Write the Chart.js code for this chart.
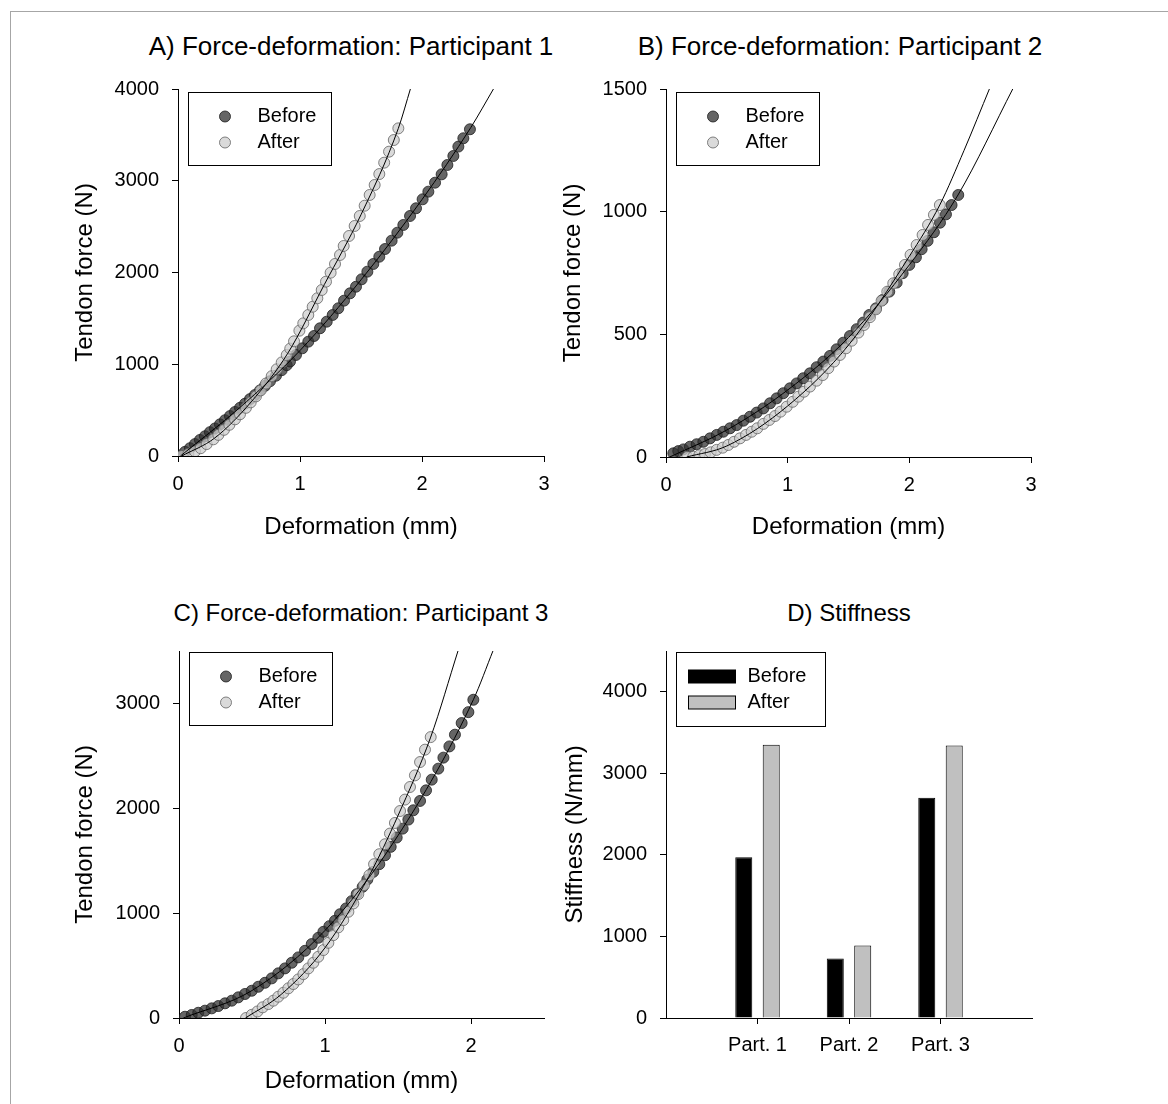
<!DOCTYPE html>
<html lang="en">
<head>
<meta charset="UTF-8">
<title>Force-deformation and stiffness</title>
<script src="https://cdn.jsdelivr.net/npm/chart.js"></script>
<style>
  body { margin: 0; background: #fff; }
  #page { position: relative; width: 1168px; height: 1104px; overflow: hidden;
          font-family: 'Liberation Sans', Arial, sans-serif; }
  #frame { position: absolute; left: 10px; top: 11px; right: -5px; bottom: -5px;
           border-left: 1px solid #a6a6a6; border-top: 1px solid #a6a6a6; }
  .panel-title { position: absolute; width: 600px; text-align: center;
                 font-size: 24px; line-height: 28px; color: #000; }
  .panel-title.big { font-size: 26px; }
  canvas { position: absolute; }
</style>
</head>
<body>
<div id="page">
  <div id="frame"></div>
  <div class="panel-title big" style="left:51px; top:32px">A) Force-deformation: Participant 1</div>
  <div class="panel-title big" style="left:540px; top:32px">B) Force-deformation: Participant 2</div>
  <div class="panel-title" style="left:61px; top:599px">C) Force-deformation: Participant 3</div>
  <div class="panel-title" style="left:549px; top:599px">D) Stiffness</div>
  <canvas id="chartA" width="515" height="490" style="left:40px; top:70px"></canvas>
  <canvas id="chartB" width="505" height="490" style="left:555px; top:70px"></canvas>
  <canvas id="chartC" width="515" height="472" style="left:40px; top:632px"></canvas>
  <canvas id="chartD" width="505" height="472" style="left:555px; top:632px"></canvas>
</div>

<script>
// deformation (mm), tendon force (N)
const p1Before = [[0.016,5],[0.057,45],[0.098,85],[0.139,130],[0.180,175],[0.221,215],[0.262,260],[0.303,300],
  [0.344,345],[0.385,390],[0.426,435],[0.467,480],[0.508,525],[0.549,570],[0.590,620],[0.631,665],[0.672,715],
  [0.713,765],[0.754,815],[0.803,875],[0.850,935],[0.891,990],[0.918,1030],[0.967,1101],[1.019,1174],[1.068,1246],
  [1.115,1308],[1.164,1392],[1.219,1464],[1.268,1537],[1.314,1610],[1.361,1693],[1.410,1773],[1.459,1845],
  [1.505,1926],[1.552,2009],[1.601,2093],[1.650,2172],[1.697,2256],[1.751,2347],[1.798,2434],[1.847,2518],
  [1.902,2616],[1.951,2700],[2.005,2798],[2.052,2881],[2.107,2979],[2.161,3070],[2.208,3172],[2.257,3270],
  [2.298,3372],[2.339,3463],[2.393,3561]];
const p1After = [[0.030,0],[0.085,22],[0.139,50],[0.186,85],[0.235,130],[0.290,182],[0.331,230],[0.377,285],
  [0.421,340],[0.467,400],[0.508,455],[0.557,525],[0.596,585],[0.639,650],[0.678,715],[0.721,790],[0.768,870],
  [0.809,945],[0.850,1020],[0.891,1100],[0.920,1170],[0.951,1250],[0.995,1366],[1.027,1446],[1.068,1537],
  [1.104,1627],[1.142,1719],[1.178,1809],[1.213,1900],[1.251,1998],[1.287,2093],[1.328,2191],[1.358,2289],
  [1.402,2398],[1.448,2507],[1.490,2616],[1.530,2728],[1.571,2845],[1.612,2954],[1.650,3073],[1.690,3197],
  [1.730,3317],[1.769,3444],[1.806,3571]];
const p1FitBefore = [[0.02,0],[0.5,520],[1.0,1150],[1.5,1920],[2.0,2795],[2.4,3580],[2.59,4010]];
const p1FitAfter = [[0.03,0],[0.3,195],[0.6,590],[0.9,1120],[1.2,1870],[1.5,2630],[1.806,3571],[1.907,4010]];

const p2Before = [[0.060,15],[0.101,24],[0.143,31],[0.197,42],[0.252,52],[0.307,62],[0.362,76],[0.417,90],
  [0.471,103],[0.526,117],[0.581,130],[0.636,148],[0.690,164],[0.745,181],[0.800,198],[0.855,219],[0.909,239],
  [0.964,260],[1.019,280],[1.074,300],[1.128,321],[1.183,341],[1.238,366],[1.293,389],[1.348,412],[1.402,439],
  [1.457,466],[1.512,493],[1.567,521],[1.621,548],[1.671,579],[1.726,606],[1.780,640],[1.835,674],[1.896,711],
  [1.945,749],[2.000,783],[2.054,814],[2.101,847],[2.150,881],[2.202,916],[2.252,955],[2.301,989],[2.347,1027],
  [2.402,1068]];
const p2After = [[0.175,0],[0.224,1],[0.274,7],[0.320,12],[0.367,19],[0.416,29],[0.466,38],[0.512,49],
  [0.559,62],[0.608,76],[0.658,90],[0.704,103],[0.750,117],[0.800,135],[0.849,151],[0.896,167],[0.942,185],
  [0.992,205],[1.041,225],[1.088,246],[1.134,266],[1.183,287],[1.238,311],[1.288,334],[1.334,362],[1.381,389],
  [1.430,416],[1.479,443],[1.526,474],[1.581,507],[1.627,538],[1.676,570],[1.726,602],[1.772,637],[1.819,674],
  [1.868,708],[1.917,745],[1.964,783],[2.010,824],[2.060,864],[2.109,905],[2.154,946],[2.202,987],[2.251,1027]];
const p2FitBefore = [[0.03,0],[0.5,110],[1.0,273],[1.5,487],[2.0,783],[2.4,1068],[2.855,1505]];
const p2FitAfter = [[0.17,0],[0.5,45],[1.0,208],[1.5,456],[2.0,818],[2.25,1027],[2.45,1250],[2.662,1505]];

const p3Before = [[0.041,12],[0.087,29],[0.132,50],[0.178,70],[0.224,92],[0.269,114],[0.315,140],[0.361,165],
  [0.406,197],[0.452,229],[0.498,260],[0.543,298],[0.589,336],[0.635,378],[0.680,426],[0.726,473],[0.772,527],
  [0.817,578],[0.863,641],[0.909,705],[0.954,765],[0.989,822],[1.030,876],[1.068,927],[1.103,990],[1.144,1045],
  [1.182,1114],[1.217,1181],[1.258,1251],[1.290,1321],[1.331,1394],[1.372,1467],[1.411,1552],[1.450,1632],
  [1.491,1721],[1.532,1806],[1.571,1892],[1.605,1981],[1.651,2070],[1.692,2171],[1.731,2273],[1.776,2378],
  [1.811,2483],[1.852,2590],[1.890,2702],[1.936,2813],[1.982,2917],[2.016,3035]];
const p3After = [[0.459,0],[0.498,30],[0.537,62],[0.573,102],[0.612,133],[0.646,165],[0.680,203],[0.715,241],
  [0.749,283],[0.783,324],[0.817,368],[0.852,419],[0.886,473],[0.920,527],[0.954,584],[0.989,648],[1.023,717],
  [1.057,790],[1.091,864],[1.125,933],[1.160,1013],[1.194,1092],[1.228,1181],[1.267,1267],[1.304,1362],
  [1.336,1467],[1.372,1562],[1.411,1657],[1.445,1759],[1.479,1860],[1.514,1974],[1.548,2083],[1.582,2203],
  [1.616,2314],[1.651,2441],[1.685,2559],[1.724,2679]];
const p3FitBefore = [[0.03,0],[0.5,262],[1.0,835],[1.5,1740],[2.016,3035],[2.153,3510]];
const p3FitAfter = [[0.455,0],[0.7,225],[1.0,670],[1.3,1350],[1.5,1930],[1.724,2679],[1.913,3510]];

// stiffness (N/mm)
const parts = ['Part. 1', 'Part. 2', 'Part. 3'];
const stiffBefore = [1970, 730, 2700];
const stiffAfter = [3350, 890, 3340];

const deformTicks = [0, 1, 2, 3];
const deformTicksC = [0, 1, 2];
const forceTicksA = [0, 1000, 2000, 3000, 4000];
const forceTicksB = [0, 500, 1000, 1500];
const forceTicksC = [0, 1000, 2000, 3000];
const stiffTicks = [0, 1000, 2000, 3000, 4000];

const FONT = "'Liberation Sans', Arial, sans-serif";
Chart.defaults.font.family = FONT;
Chart.defaults.color = '#000';
Chart.defaults.animation = false;

const beforeFill = 'rgba(50,50,50,0.75)', beforeEdge = 'rgba(30,30,30,0.8)';
const afterFill = 'rgba(205,205,205,0.75)', afterEdge = 'rgba(100,100,100,0.8)';

function pts(pairs) {
  return pairs.map(([x, y]) => ({x, y}));
}

// fixed axis size, and no extra room for overhanging tick labels
function fitTo(o) {
  return s => {
    s.paddingTop = s.paddingBottom = s.paddingLeft = s.paddingRight = 0;
    if (o.width) s.width = o.width;
    if (o.height) s.height = o.height;
  };
}

function axis(o) {
  return {
    type: 'linear', min: o.min, max: o.max,
    afterBuildTicks: s => { s.ticks = o.ticks.map(v => ({value: v})); },
    afterFit: fitTo(o),
    ticks: { font: {size: 20}, padding: o.pad, autoSkip: false, maxRotation: 0, callback: v => String(v) },
    grid: { drawOnChartArea: false, tickLength: 6, color: '#000', tickColor: '#000' },
    border: { color: '#000', width: 1 },
    title: { display: !!o.title, text: o.title, font: {size: 24}, padding: o.titlePad }
  };
}

// legend drawn as a framed box inside the plot area
function boxLegend(cfg) {
  return {
    id: 'boxLegend',
    afterDatasetsDraw(chart) {
      const {ctx, chartArea} = chart;
      const x0 = Math.round(chartArea.left + cfg.dx) + 0.5;
      const y0 = Math.round(chartArea.top + cfg.dy) + 0.5;
      ctx.save();
      ctx.fillStyle = '#fff';
      ctx.fillRect(x0, y0, cfg.w, cfg.h);
      ctx.strokeStyle = '#000';
      ctx.lineWidth = 1;
      ctx.strokeRect(x0, y0, cfg.w, cfg.h);
      ctx.font = '20px ' + FONT;
      ctx.textBaseline = 'middle';
      cfg.items.forEach((di, row) => {
        const ds = chart.data.datasets[di];
        const cy = y0 + cfg.row0 + row * cfg.rowGap;
        ctx.fillStyle = ds.backgroundColor;
        ctx.strokeStyle = ds.borderColor;
        ctx.lineWidth = 1;
        if (cfg.rect) {
          const r = cfg.rect;
          ctx.fillRect(x0 + r.x, Math.round(cy - r.h / 2), r.w, r.h);
          ctx.strokeRect(x0 + r.x, Math.round(cy - r.h / 2), r.w, r.h);
        } else {
          ctx.beginPath();
          ctx.arc(x0 + cfg.markX, cy, 5.5, 0, Math.PI * 2);
          ctx.fill();
          ctx.stroke();
        }
        ctx.fillStyle = '#000';
        ctx.fillText(ds.label, x0 + cfg.textX, cy);
      });
      ctx.restore();
    }
  };
}

function forceChart(id, before, after, fitBefore, fitAfter, xAxis, yAxis, padding, legendCfg) {
  const marker = { pointRadius: 5.5, pointBorderWidth: 1, pointHoverRadius: 5.5 };
  const fit = { showLine: true, pointRadius: 0, borderColor: '#000', borderWidth: 1,
                cubicInterpolationMode: 'monotone', clip: {left: 3, right: 3, top: 0, bottom: 3} };
  new Chart(document.getElementById(id), {
    type: 'scatter',
    data: {
      datasets: [
        { label: 'Before', data: pts(before), backgroundColor: beforeFill, borderColor: beforeEdge, order: 4, ...marker },
        { label: 'After', data: pts(after), backgroundColor: afterFill, borderColor: afterEdge, order: 3, ...marker },
        { label: 'fit before', data: pts(fitBefore), order: 1, ...fit },
        { label: 'fit after', data: pts(fitAfter), order: 2, ...fit }
      ]
    },
    options: {
      responsive: false, devicePixelRatio: 1, events: [],
      layout: { padding },
      plugins: { legend: {display: false}, tooltip: {enabled: false} },
      scales: { x: xAxis, y: yAxis }
    },
    plugins: [boxLegend(legendCfg)]
  });
}

const circleLegend = { dx: 10, dy: 3, w: 143, h: 73, markX: 36.5, row0: 24, rowGap: 26, textX: 69, items: [0, 1] };

forceChart('chartA', p1Before, p1After, p1FitBefore, p1FitAfter,
  axis({min: 0, max: 3, ticks: deformTicks, height: 104, pad: 10, title: 'Deformation (mm)', titlePad: {top: 0, bottom: 18.6}}),
  axis({min: 0, max: 4000, ticks: forceTicksA, width: 138, pad: 13, title: 'Tendon force (N)', titlePad: {top: 30.6, bottom: 0}}),
  {top: 19, right: 11, left: 0, bottom: 0}, circleLegend);

forceChart('chartB', p2Before, p2After, p2FitBefore, p2FitAfter,
  axis({min: 0, max: 3, ticks: deformTicks, height: 103, pad: 10, title: 'Deformation (mm)', titlePad: {top: 0, bottom: 18.6}}),
  axis({min: 0, max: 1500, ticks: forceTicksB, width: 111, pad: 13, title: 'Tendon force (N)', titlePad: {top: 3.6, bottom: 0}}),
  {top: 19, right: 29, left: 0, bottom: 0}, circleLegend);

forceChart('chartC', p3Before, p3After, p3FitBefore, p3FitAfter,
  axis({min: 0, max: 2.5, ticks: deformTicksC, height: 86, pad: 10, title: 'Deformation (mm)', titlePad: {top: 0, bottom: 8.6}}),
  axis({min: 0, max: 3500, ticks: forceTicksC, width: 139, pad: 13, title: 'Tendon force (N)', titlePad: {top: 30.6, bottom: 0}}),
  {top: 19, right: 11, left: 0, bottom: 0}, {...circleLegend, dy: 1});

// stiffness bars, categories padded with empty slots so Part. 1..3 sit at ticks 1..3
const barLabels = [''].concat(parts, ['']);
const shownTick = c => (c.index >= 1 && c.index <= parts.length) ? '#000' : 'rgba(0,0,0,0)';

new Chart(document.getElementById('chartD'), {
  type: 'bar',
  data: {
    labels: barLabels,
    datasets: [
      { label: 'Before', data: [null].concat(stiffBefore, [null]), backgroundColor: '#000', borderColor: '#000', borderWidth: 1 },
      { label: 'After', data: [null].concat(stiffAfter, [null]), backgroundColor: '#c0c0c0', borderColor: '#000', borderWidth: 1 }
    ]
  },
  options: {
    responsive: false, devicePixelRatio: 1, events: [],
    categoryPercentage: 0.6, barPercentage: 0.62,
    layout: { padding: {top: 19, right: 28, left: 0, bottom: 0} },
    plugins: { legend: {display: false}, tooltip: {enabled: false} },
    scales: {
      x: {
        type: 'category', offset: false,
        afterFit: fitTo({height: 86}),
        ticks: { font: {size: 20}, padding: 9, autoSkip: false, maxRotation: 0 },
        grid: { offset: false, drawOnChartArea: false, tickLength: 6, color: shownTick, tickColor: shownTick },
        border: { color: '#000', width: 1 }
      },
      y: axis({min: 0, max: 4500, ticks: stiffTicks, width: 111, pad: 13, title: 'Stiffness (N/mm)', titlePad: {top: 5.6, bottom: 0}})
    }
  },
  plugins: [boxLegend({ dx: 10, dy: 1, w: 149, h: 74, row0: 24, rowGap: 26, textX: 71,
                        rect: {x: 12, w: 47, h: 13}, items: [0, 1] })]
});
</script>
</body>
</html>
